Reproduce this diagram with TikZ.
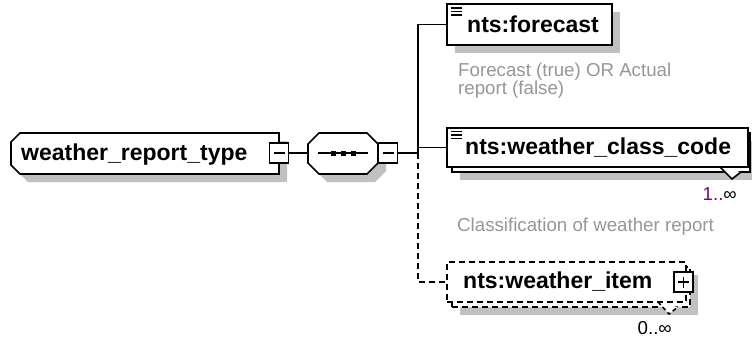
\documentclass[tikz,border=0pt]{standalone}
\usepackage{fontspec}
\setmainfont{Liberation Sans}
\usetikzlibrary{calc}
\definecolor{shadowgray}{RGB}{192,192,192}
\definecolor{anngray}{RGB}{150,150,150}
\definecolor{multpurple}{RGB}{128,0,128}
\tikzset{
  edge/.style={line width=1.6pt},
  dashededge/.style={edge, dash pattern=on 6pt off 4pt},
  shad/.style={fill=shadowgray, draw=none},
  elbox/.style={draw, fill=white, line width=1.6pt, inner sep=0pt, outer sep=0pt, anchor=north west},
  lbl/.style={font=\fontsize{23}{26}\selectfont\bfseries, inner sep=0pt, anchor=base west},
  ann/.style={font=\fontsize{18.7}{18}\selectfont, text=anngray, inner sep=0pt, anchor=base west, align=left},
  mult/.style={font=\fontsize{18.7}{18}\selectfont, inner sep=0pt, anchor=base east},
  pmbox/.style={draw, fill=white, line width=1.4pt, minimum width=19pt, minimum height=20pt, inner sep=0pt, outer sep=0pt},
  sign/.style={line width=1.4pt},
  icon/.style={line width=1.6pt},
}
\begin{document}
\begin{tikzpicture}[x=1pt,y=-1pt]
\useasboundingbox (0,0) rectangle (752,340);
% shadows
\fill[shad] (28,141) -- (287,141) -- (287,182) -- (28,182) -- (19,173) -- (19,150) -- cycle;
\fill[shad] (327,141) -- (375,141) -- (386,152) -- (386,171) -- (375,182) -- (327,182) -- (316,171) -- (316,152) -- cycle;
\fill[shad] (455,12) rectangle (620,53);
\fill[shad] (460,141) rectangle (758,180);
\fill[shad] (460,275) rectangle (698,315);
% main complex type box
\draw[edge, fill=white] (20,133) -- (279,133) -- (279,174) -- (20,174) -- (11,165) -- (11,142) -- cycle;
% sequence compositor
\draw[edge, fill=white] (319,133) -- (367,133) -- (378,144) -- (378,163) -- (367,174) -- (319,174) -- (308,163) -- (308,144) -- cycle;
\coordinate (octW) at (308,153);
\coordinate (jn) at (418,153);
\draw[edge] (318,153) -- (368,153);
\fill (330.5,150.5) rectangle +(5,5);
\fill (340.5,150.5) rectangle +(5,5);
\fill (350.5,150.5) rectangle +(5,5);
% plus/minus boxes
\node[pmbox] (m1) at (279,153) {};
\draw[sign] ($(m1.center)+(-5.5,0)$) -- ($(m1.center)+(5.5,0)$);
\node[pmbox] (m2) at (388,153) {};
\draw[sign] ($(m2.center)+(-5.5,0)$) -- ($(m2.center)+(5.5,0)$);
% element boxes
\node[elbox, minimum width=165pt, minimum height=41pt] (fc) at (447,4) {};
\node[elbox, minimum width=298pt, minimum height=39pt] (ccb) at (452,133) {};
\node[elbox, minimum width=301pt, minimum height=39pt] (cc) at (447,128) {};
\node[elbox, dash pattern=on 6pt off 4pt, minimum width=238pt, minimum height=40pt] (wib) at (452,267) {};
\node[elbox, dash pattern=on 6pt off 4pt, minimum width=239pt, minimum height=40pt] (wi) at (447,262) {};
% connectors
\draw[edge] (m1.east) -- (octW);
\draw[edge] (m2.east) -- (jn);
\draw[edge] (jn) |- (fc.west);
\draw[edge] (jn) |- (cc.west);
\draw[dashededge] (jn) |- (wi.west);
% multiplicity notches
\fill[white] (720,167.8) -- (732,179) -- (741,172) -- cycle;
\draw[edge] (720,167) -- (732,179) -- (741,172);
\fill[white] (658,302.8) -- (669,314) -- (678,307) -- cycle;
\draw[edge, dash pattern=on 4pt off 3pt] (658,302) -- (669,314) -- (678,307);
% plus box on weather_item
\node[pmbox] (p1) at (683.5,282) {};
\draw[sign] ($(p1.center)+(-5.5,0)$) -- ($(p1.center)+(5.5,0)$);
\draw[sign] ($(p1.center)+(0,-5.5)$) -- ($(p1.center)+(0,5.5)$);
% annotation icons
\draw[icon] (451,8) -- (462,8);
\draw[icon] (451,11.5) -- (462,11.5);
\draw[icon] (451,15) -- (462,15);
\draw[icon] (451,131.5) -- (462,131.5);
\draw[icon] (451,135) -- (462,135);
\draw[icon] (451,138.5) -- (462,138.5);
% texts
\node[lbl] (t0) at (21,160) {weather\_report\_type};
\node[lbl] (t1) at (467,32) {nts:forecast};
\node[lbl] (t2) at (465,154) {nts:weather\_class\_code};
\node[lbl] (t3) at (463,288) {nts:weather\_item};
\node[ann] (a1) at (458,94) {Forecast (true) OR Actual\\report (false)};
\node[ann] (a2) at (457,231) {Classification of weather report};
\node[mult] (n1) at (737,200) {\textcolor{multpurple}{1..}∞};
\node[mult] (n2) at (672,334) {0..∞};
\end{tikzpicture}
\end{document}
